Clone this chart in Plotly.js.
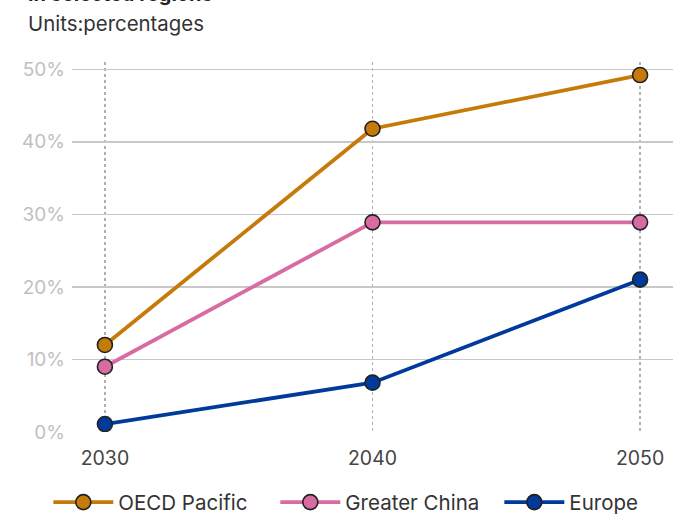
<!DOCTYPE html>
<html><head><meta charset="utf-8">
<script src="https://cdn.plot.ly/plotly-3.0.1.min.js"></script>
<style>html,body{margin:0;padding:0;background:#fff}#chart{width:676px;height:516px}</style>
</head><body><div id="chart"></div>
<script>
const years = [2030, 2040, 2050];
const oecdPacific = [12.0, 41.8, 49.2];
const greaterChina = [9.0, 28.9, 28.9];
const europe = [1.1, 6.8, 21.0];
const seriesNames = ["OECD Pacific", "Greater China", "Europe"];
const yTickVals = [0, 10, 20, 30, 40, 50];
const yTickText = ["0%", "10%", "20%", "30%", "40%", "50%"];

const colors = ["#C67A0A", "#D86CA2", "#003A9B"];
const legendIds = ["legend", "legend2", "legend3"];
const data = [oecdPacific, greaterChina, europe].map((vals, i) => ({
  x: years, y: vals, name: seriesNames[i], type: "scatter", mode: "lines+markers",
  legend: legendIds[i],
  line: {color: colors[i], width: 3.8},
  marker: {color: colors[i], size: 15, line: {color: "#222", width: 1.6}},
  hoverinfo: "x+y"
}));

function legendAt(x) {
  return {orientation: "h", x: x, xanchor: "left", y: -0.19, yanchor: "middle",
          font: {size: 20.5, color: "#333"}, itemwidth: 60, bgcolor: "rgba(0,0,0,0)"};
}

const layout = {
  width: 676, height: 516,
  margin: {l: 72, r: 3, t: 62, b: 84, autoexpand: false},
  paper_bgcolor: "#fff", plot_bgcolor: "#fff",
  font: {family: "Inter, 'Noto Sans', sans-serif", color: "#333"},
  showlegend: true,
  legend: legendAt(-0.0394),
  legend2: legendAt(0.3383),
  legend3: legendAt(0.7110),
  xaxis: {
    range: [2028.77, 2051.23], tickvals: years, ticktext: years.map(String),
    showgrid: true, gridcolor: "#b0b0b0", gridwidth: 1.5, griddash: "dot",
    zeroline: false, showline: false, ticks: "",
    tickfont: {size: 19.5, color: "#444"}, ticklabelstandoff: 12
  },
  yaxis: {
    range: [0, 51], tickvals: yTickVals, ticktext: yTickText,
    showgrid: true, gridcolor: "#c8c8c8", gridwidth: 1.5,
    zeroline: false, showline: false, ticks: "",
    tickfont: {size: 19, color: "#bfbfbf"}, ticklabelstandoff: 6
  },
  annotations: [
    {text: "<b>in selected regions</b>", xref: "paper", yref: "paper", x: -0.077, y: 1.147,
     xanchor: "left", yanchor: "bottom", showarrow: false, font: {size: 20, color: "#222"}},
    {text: "Units:percentages", xref: "paper", yref: "paper", x: -0.077, y: 1.105,
     xanchor: "left", yanchor: "middle", showarrow: false, font: {size: 20.4, color: "#333"}}
  ]
};
Plotly.newPlot("chart", data, layout, {displayModeBar: false, staticPlot: true});
</script></body></html>
